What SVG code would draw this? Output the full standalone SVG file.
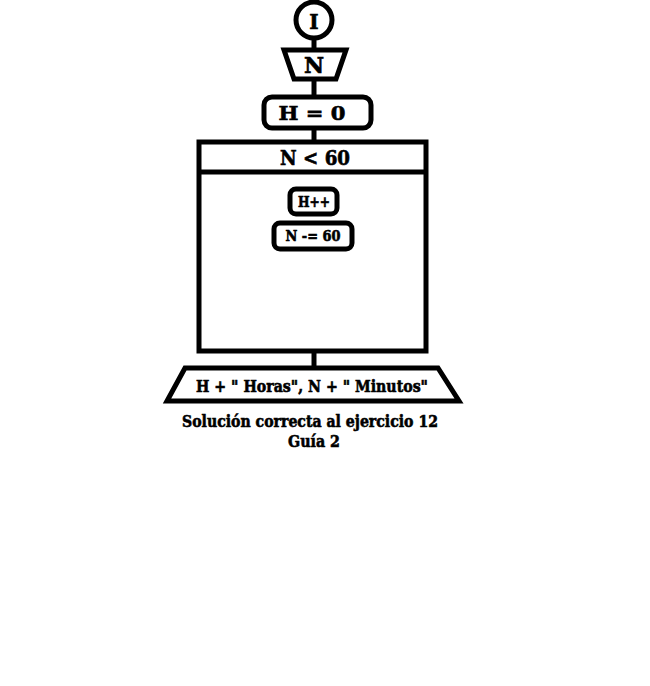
<svg xmlns="http://www.w3.org/2000/svg" width="650" height="686" viewBox="0 0 650 686">
<style>
.s{fill:#fff;stroke:#000;stroke-width:5}
.c{fill:none;stroke:#000;stroke-width:5}
text{font-family:"DejaVu Serif","Liberation Serif",serif;font-weight:bold;text-anchor:middle;fill:#000;stroke:#000;stroke-width:0.6}
</style>
<rect width="650" height="686" fill="#fff"/>
<g id="connectors">
<line class="c" x1="314" y1="39" x2="314" y2="50"/>
<line class="c" x1="314" y1="80" x2="314" y2="97"/>
<line class="c" x1="314" y1="128" x2="314" y2="141"/>
<line class="c" x1="314" y1="352" x2="314" y2="368"/>
</g>
<g id="start"><circle class="s" cx="314" cy="20" r="18"/><text x="314" y="29" font-size="20">I</text></g>
<g id="input"><polygon class="s" points="284,50 346,50 336,79 294,79"/><text x="314" y="73" font-size="22">N</text></g>
<g id="assign"><rect class="s" x="264" y="97" width="107" height="31" rx="8"/><text x="312" y="120" font-size="19" textLength="67" lengthAdjust="spacingAndGlyphs">H = 0</text></g>
<g id="loop"><rect class="s" x="199" y="142" width="227" height="209"/><line class="c" x1="199" y1="172" x2="426" y2="172"/><text x="315" y="165" font-size="20" textLength="70" lengthAdjust="spacingAndGlyphs">N &lt; 60</text></g>
<g id="inc"><rect class="s" x="290" y="189" width="47" height="25" rx="6"/><text x="314" y="207" font-size="14" textLength="32" lengthAdjust="spacingAndGlyphs">H++</text></g>
<g id="dec"><rect class="s" x="274" y="223" width="78" height="26" rx="6"/><text x="313" y="241" font-size="14" textLength="55" lengthAdjust="spacingAndGlyphs">N -= 60</text></g>
<g id="output"><polygon class="s" points="185,368 438,368 459,401 167,401"/><text x="312" y="392" font-size="16" textLength="232" lengthAdjust="spacingAndGlyphs">H + "  Horas", N + "  Minutos"</text></g>
<text x="310" y="427" font-size="16" textLength="256" lengthAdjust="spacingAndGlyphs">Solución correcta al ejercicio 12</text>
<text x="314" y="447" font-size="16" textLength="52" lengthAdjust="spacingAndGlyphs">Guía 2</text>
</svg>
